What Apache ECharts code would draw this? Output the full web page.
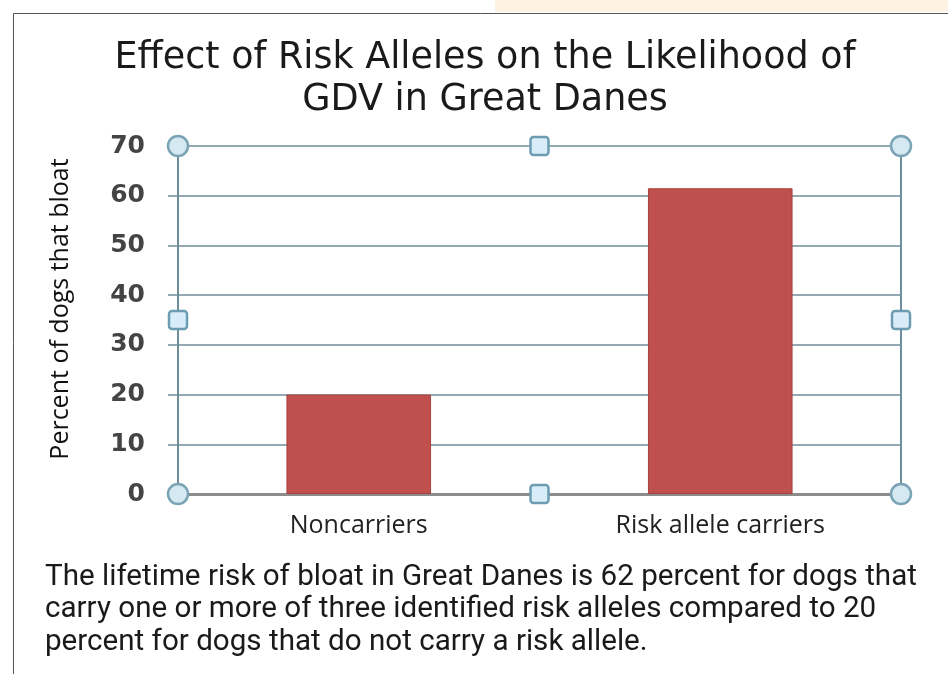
<!DOCTYPE html>
<html>
<head>
<meta charset="utf-8">
<script src="https://cdn.jsdelivr.net/npm/echarts@6/dist/echarts.min.js"></script>
<style>
html,body{margin:0;padding:0;background:#fff;}
#c{width:948px;height:674px;}
</style>
</head>
<body>
<div id="c"></div>
<script>
var categories = ['Noncarriers', 'Risk allele carriers'];
var percentBloat = [20, 61.5];
var yTicks = {min: 0, max: 70, interval: 10};
var titleLines = ['Effect of Risk Alleles on the Likelihood of', 'GDV in Great Danes'];
var yName = 'Percent of dogs that bloat';
var captionLines = [
  'The lifetime risk of bloat in Great Danes is 62 percent for dogs that',
  'carry one or more of three identified risk alleles compared to 20',
  'percent for dogs that do not carry a risk allele.'
];

var chart = echarts.init(document.getElementById('c'), null, {renderer: 'canvas'});
var G = {left: 178, right: 47, top: 146, bottom: 180};

var option = {
  backgroundColor: '#ffffff',
  animation: false,
  grid: {left: G.left, right: G.right, top: G.top, bottom: G.bottom, containLabel: false},
  xAxis: [{
    type: 'category',
    data: categories,
    axisLine: {show: true, lineStyle: {color: '#8c8c8c', width: 3}},
    axisTick: {show: false},
    axisLabel: {color: '#222222', fontFamily: 'Open Sans', fontSize: 25, margin: 19},
    splitLine: {show: false}
  }, {
    type: 'category',
    position: 'top',
    data: categories,
    axisLine: {show: true, lineStyle: {color: '#8c8c8c', width: 3}},
    axisTick: {show: false},
    axisLabel: {show: false}
  }],
  yAxis: [{
    type: 'value',
    min: yTicks.min, max: yTicks.max, interval: yTicks.interval,
    name: yName,
    nameLocation: 'middle',
    nameGap: 105,
    nameTextStyle: {color: '#111111', fontFamily: 'Open Sans', fontSize: 25, padding: [0, 0, 0, 22]},
    axisLine: {show: true, lineStyle: {color: '#6f8e9b', width: 2}},
    axisTick: {show: true, length: 10, lineStyle: {color: '#6f8e9b', width: 1.5}},
    axisLabel: {color: '#444444', fontFamily: 'DejaVu Sans', fontWeight: 'bold', fontSize: 25, margin: 33},
    splitLine: {show: true, lineStyle: {color: '#6f8e9b', width: 1.5}}
  }, {
    type: 'value',
    position: 'right',
    min: yTicks.min, max: yTicks.max, interval: yTicks.interval,
    axisLine: {show: true, lineStyle: {color: '#6f8e9b', width: 2}},
    axisTick: {show: false},
    axisLabel: {show: false},
    splitLine: {show: false}
  }],
  series: [{
    type: 'bar',
    data: percentBloat,
    barWidth: '40%',
    itemStyle: {color: '#c0504d', borderColor: '#a8403d', borderWidth: 1},
    z: 3
  }]
};
chart.setOption(option);

// Decorations (frame, title, caption, selection handles)
var W = 948, H = 674;
var pl = G.left, pr = W - G.right;
var yTop = chart.convertToPixel({yAxisIndex: 0}, yTicks.max);
var yBot = chart.convertToPixel({yAxisIndex: 0}, yTicks.min);
var xm = (pl + pr) / 2, ymid = (yTop + yBot) / 2;

function circ(x, y) {
  return {type: 'circle', shape: {cx: x, cy: y, r: 10}, z: 100,
    style: {fill: '#d5e9f3', stroke: '#7aa3b6', lineWidth: 2.5}};
}
function sq(x, y) {
  return {type: 'rect', shape: {x: x - 9, y: y - 9, width: 18, height: 18, r: 3}, z: 100,
    style: {fill: '#d8edf7', stroke: '#6d9db2', lineWidth: 2.5}};
}

var elements = [
  {type: 'rect', shape: {x: 495, y: 0, width: 453, height: 12}, style: {fill: '#fdf3e4'}, z: 0},
  {type: 'line', shape: {x1: 13.5, y1: 13.5, x2: 948, y2: 13.5}, style: {stroke: '#555555', lineWidth: 1}, z: 1},
  {type: 'line', shape: {x1: 13.5, y1: 13.5, x2: 13.5, y2: 674}, style: {stroke: '#555555', lineWidth: 1}, z: 1},
  {type: 'text', x: 485, y: 38, z: 10, style: {text: titleLines.join('\n'), fill: '#1a1a1a',
    font: '36.5px "DejaVu Sans"', align: 'center', verticalAlign: 'top', lineHeight: 42}},
  {type: 'text', x: 45, y: 561, z: 10, style: {text: captionLines.join('\n'), fill: '#1a1a1a',
    font: '29.6px Roboto', align: 'left', verticalAlign: 'top', lineHeight: 32.5}},
  circ(pl, yTop), circ(pr, yTop), circ(pl, yBot), circ(pr, yBot),
  sq(xm, yTop), sq(xm, yBot), sq(pl, ymid), sq(pr, ymid)
];
chart.setOption({graphic: {elements: elements}});
</script>
</body>
</html>
